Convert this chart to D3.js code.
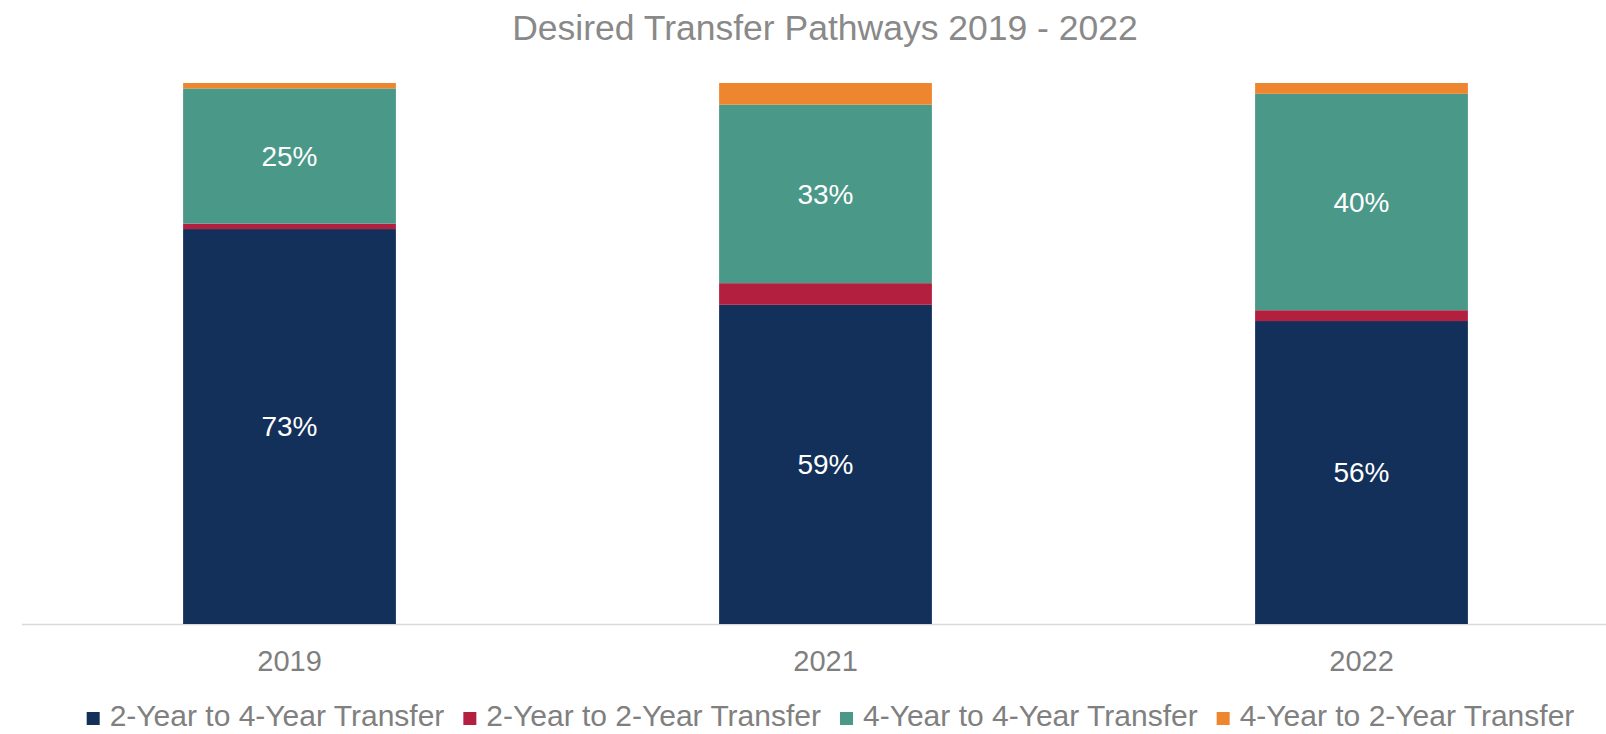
<!DOCTYPE html>
<html>
<head>
<meta charset="utf-8">
<script src="https://cdn.jsdelivr.net/npm/d3@7"></script>
<style>
  html, body { margin: 0; padding: 0; background: #ffffff; }
  svg { display: block; }
  text { font-family: "Liberation Sans", Arial, Helvetica, sans-serif; }
</style>
</head>
<body>
<svg id="chart" width="1606" height="734"></svg>
<script>
// Survey years and the share of respondents per transfer pathway (percent)
const years = ["2019", "2021", "2022"];
const seriesNames = [
  "2-Year to 4-Year Transfer",
  "2-Year to 2-Year Transfer",
  "4-Year to 4-Year Transfer",
  "4-Year to 2-Year Transfer"
];
const twoToFour  = [73, 59, 56];
const twoToTwo   = [1, 4, 2];
const fourToFour = [25, 33, 40];
const fourToTwo  = [1, 4, 2];
const seriesColors = ["#13305a", "#b3203f", "#4a9887", "#ee8630"];
const labelledSeries = [0, 2]; // segments that carry a value label

const title = "Desired Transfer Pathways 2019 - 2022";

const rows = years.map((yr, i) => ({
  year: yr,
  [seriesNames[0]]: twoToFour[i],
  [seriesNames[1]]: twoToTwo[i],
  [seriesNames[2]]: fourToFour[i],
  [seriesNames[3]]: fourToTwo[i]
}));

const svg = d3.select("#chart");

const step = 536;
const x = d3.scaleBand()
  .domain(years)
  .range([21.5, 21.5 + step * years.length])
  .paddingInner(0.603)
  .paddingOuter(0.3015);

const y = d3.scaleLinear().domain([0, 100]).range([624, 83]);

const stack = d3.stack().keys(seriesNames);
const stacked = stack(rows);

// Title
svg.append("text")
  .attr("x", 825)
  .attr("y", 40)
  .attr("text-anchor", "middle")
  .attr("font-size", 35.5)
  .attr("fill", "#898989")
  .text(title);

// Category axis
const axis = svg.append("g")
  .attr("transform", `translate(0,${y(0)})`)
  .call(d3.axisBottom(x).tickSize(0).tickSizeOuter(0).tickPadding(26));
axis.select(".domain").attr("stroke", "#d9d9d9").attr("stroke-width", 1.5);
axis.selectAll(".tick text")
  .attr("font-size", 29)
  .attr("fill", "#7f7f7f")
  .style("font-family", "'Liberation Sans', Arial, sans-serif");

// Stacked bars
const layers = svg.append("g").selectAll("g")
  .data(stacked)
  .join("g")
  .attr("fill", (d, i) => seriesColors[i]);

layers.selectAll("rect")
  .data(d => d)
  .join("rect")
  .attr("x", d => x(d.data.year))
  .attr("width", x.bandwidth())
  .attr("y", d => y(d[1]))
  .attr("height", d => y(d[0]) - y(d[1]));

// Value labels on the larger segments
const labels = svg.append("g");
labelledSeries.forEach(si => {
  labels.selectAll(null)
    .data(stacked[si])
    .join("text")
    .attr("x", d => x(d.data.year) + x.bandwidth() / 2)
    .attr("y", d => (y(d[0]) + y(d[1])) / 2)
    .attr("dy", "0.35em")
    .attr("text-anchor", "middle")
    .attr("font-size", 28)
    .attr("fill", "#ffffff")
    .text(d => `${d[1] - d[0]}%`);
});

// Legend
const legend = svg.append("g");
const sq = 13, sqGap = 10, itemGap = 19;
const items = legend.selectAll("g")
  .data(seriesNames)
  .join("g");
items.append("rect")
  .attr("width", sq)
  .attr("height", sq)
  .attr("y", 712)
  .attr("fill", (d, i) => seriesColors[i]);
items.append("text")
  .attr("x", sq + sqGap)
  .attr("y", 726)
  .attr("font-size", 30)
  .attr("fill", "#808080")
  .text(d => d);

let cursor = 0;
const widths = [];
items.each(function () {
  const w = sq + sqGap + d3.select(this).select("text").node().getComputedTextLength();
  widths.push(w);
});
const total = d3.sum(widths) + itemGap * (widths.length - 1);
const start = 830.5 - total / 2;
items.attr("transform", (d, i) => {
  const tx = start + cursor;
  cursor += widths[i] + itemGap;
  return `translate(${tx},0)`;
});
</script>
</body>
</html>
